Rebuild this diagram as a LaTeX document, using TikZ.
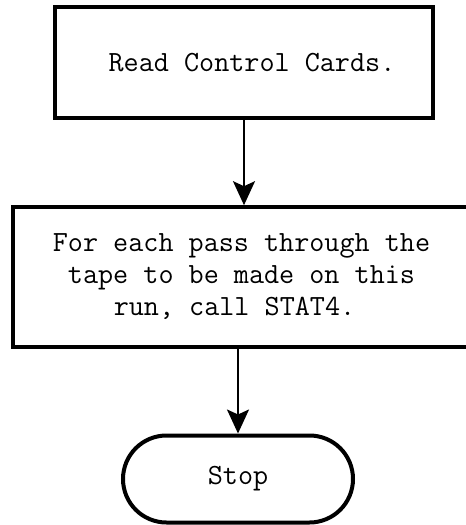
\documentclass[tikz,border=0pt]{standalone}
\usepackage{fontspec}
\usetikzlibrary{arrows.meta,shapes.misc}
\begin{document}
\begin{tikzpicture}[x=1pt,y=-1pt,
  procbox/.style={draw,line width=3.6pt,rectangle,inner sep=0pt,font=\ttfamily\fontsize{29.3}{32}\selectfont,align=center},
  term/.style={draw,line width=4pt,rounded rectangle,inner sep=0pt,font=\ttfamily\fontsize{29.3}{32}\selectfont},
  arr/.style={line width=2pt,-{Stealth[length=24pt,width=22pt,inset=5pt]}}]
\useasboundingbox (0,0) rectangle (466,525);
\clip (0,0) rectangle (466,525);
\node[procbox,minimum width=378pt,minimum height=111pt] (box1) at (244,62.5) {\hspace*{16pt}Read Control Cards.};
\node[procbox,minimum width=457pt,minimum height=140pt] (box2) at (241.5,277) {For each pass through the\\tape to be made on this\\\hspace*{-14pt}run, call STAT4.};
\node[term,minimum width=230pt,minimum height=87pt] (stop) at (238,479) {Stop};
\draw[arr] (box1.south) -- (box1.south |- box2.north);
\draw[arr] (box2.south -| stop.north) -- (stop.north);
\end{tikzpicture}
\end{document}
